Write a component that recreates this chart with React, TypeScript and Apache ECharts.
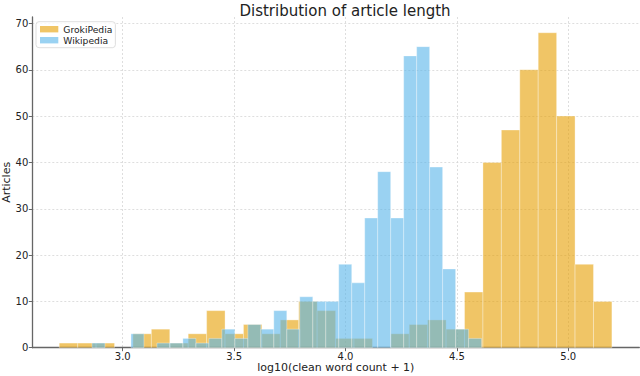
import { useEffect, useRef } from "react";
import * as echarts from "echarts";

const titleText = "Distribution of article length";
const xAxisLabel = "log10(clean word count + 1)";
const yAxisLabel = "Articles";
const seriesNames = ["GrokiPedia", "Wikipedia"];
const seriesColors = ["rgba(230,159,0,0.6)", "rgba(86,180,233,0.6)"];

// Histogram bins (evenly spaced): start of first bin, bin width, counts per bin
const grokiBinStart = 2.715;
const grokiBinWidth = 0.0827;
const grokiCounts = [1, 1, 1, 0, 3, 4, 1, 3, 8, 3, 5, 3, 6, 10, 8, 2, 2, 0, 3, 5, 6, 4, 12, 40, 47, 60, 68, 50, 18, 10];

const wikiBinStart = 2.862;
const wikiBinWidth = 0.0583;
const wikiCounts = [1, 0, 0, 3, 0, 1, 1, 2, 1, 2, 4, 2, 5, 4, 8, 4, 11, 10, 10, 18, 14, 28, 38, 28, 63, 65, 39, 17, 4, 2];

const xTickValues = [3.0, 3.5, 4.0, 4.5, 5.0];
const xMin = 2.594;
const xMax = 5.319;
const yMax = 71.4;

const FONT = "DejaVu Sans";

function binsToData(start: number, width: number, counts: number[]) {
  return counts.map((c, i) => [start + i * width, start + (i + 1) * width, c]);
}

function makeSeries(name: string, color: string, data: number[][]) {
  return {
    type: "custom",
    name,
    data,
    encode: { x: [0, 1], y: 2 },
    itemStyle: { color },
    renderItem: (_params: any, api: any) => {
      const v = api.value(2);
      if (!v) return { type: "group", children: [] };
      const p0 = api.coord([api.value(0), 0]);
      const p1 = api.coord([api.value(1), v]);
      return {
        type: "rect",
        shape: { x: p0[0], y: p1[1], width: p1[0] - p0[0], height: p0[1] - p1[1] },
        style: { fill: color, stroke: "rgba(255,255,255,0.55)", lineWidth: 0.6 },
      };
    },
  };
}

export default function App() {
  const ref = useRef<HTMLDivElement>(null);
  useEffect(() => {
    if (!ref.current) return;
    const chart = echarts.init(ref.current, undefined, { renderer: "svg" });
    const gridLine = { show: true, lineStyle: { color: "#d6d6d6", type: [2, 2], width: 0.8 }, showMinLine: false, showMaxLine: false };
    chart.setOption({
      animation: false,
      backgroundColor: "#ffffff",
      title: {
        text: titleText,
        left: 340,
        textAlign: "center",
        top: -2,
        textStyle: { fontFamily: FONT, fontSize: 15, fontWeight: "normal", color: "#222" },
      },
      legend: {
        data: seriesNames,
        orient: "vertical",
        left: 36,
        top: 21.7,
        icon: "rect",
        itemWidth: 18.3,
        itemHeight: 6.4,
        itemGap: 2,
        padding: [3, 3, 3, 4],
        borderColor: "#d6d6d6",
        borderWidth: 0.8,
        borderRadius: 3,
        backgroundColor: "rgba(255,255,255,0.8)",
        textStyle: { fontFamily: FONT, fontSize: 9.2, color: "#222" },
      },
      grid: { left: 32.3, right: 0.7, top: 17, bottom: 28.3, containLabel: false, outerBoundsMode: "none" },
      xAxis: {
        type: "value",
        min: xMin,
        max: xMax,
        splitNumber: 5,
        name: xAxisLabel,
        nameLocation: "middle",
        nameGap: 14,
        nameMoveOverlap: false,
        nameTextStyle: { fontFamily: FONT, fontSize: 11, color: "#222", verticalAlign: "top" },
        axisLine: { show: true, lineStyle: { color: "#666", width: 1.3 } },
        axisTick: { show: true, length: 3.5, lineStyle: { color: "#666" } },
        axisLabel: {
          showMinLabel: false,
          showMaxLabel: false,
          margin: 4,
          fontFamily: FONT,
          fontSize: 10,
          color: "#222",
          formatter: (v: number) => (xTickValues.some((t) => Math.abs(t - v) < 1e-6) ? v.toFixed(1) : ""),
        },
        splitLine: gridLine,
      },
      yAxis: {
        type: "value",
        min: 0,
        max: yMax,
        interval: 10,
        name: yAxisLabel,
        nameLocation: "middle",
        nameGap: 20,
        nameMoveOverlap: false,
        nameTextStyle: { fontFamily: FONT, fontSize: 11, color: "#222" },
        axisLine: { show: true, lineStyle: { color: "#666", width: 1.3 } },
        axisTick: { show: true, length: 3.5, lineStyle: { color: "#666" } },
        axisLabel: { showMaxLabel: false, margin: 4, fontFamily: FONT, fontSize: 10, color: "#222" },
        splitLine: gridLine,
      },
      series: [
        makeSeries(seriesNames[0], seriesColors[0], binsToData(grokiBinStart, grokiBinWidth, grokiCounts)),
        makeSeries(seriesNames[1], seriesColors[1], binsToData(wikiBinStart, wikiBinWidth, wikiCounts)),
      ],
    });
    return () => chart.dispose();
  }, []);
  return <div ref={ref} style={{ position: "absolute", left: 0, top: 0, width: 640, height: 376 }} />;
}
